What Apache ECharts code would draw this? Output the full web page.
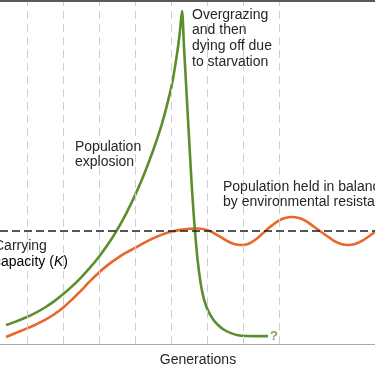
<!DOCTYPE html>
<html>
<head>
<meta charset="utf-8">
<script src="https://cdn.jsdelivr.net/npm/echarts@6/dist/echarts.min.js"></script>
<style>
  html, body { margin: 0; padding: 0; background: #fff; }
  #chart { width: 375px; height: 366px; }
</style>
</head>
<body>
<div id="chart"></div>
<script>
// Generations (x) and population (y, carrying capacity K = 100)
const greenX = [0.417, 0.667, 1.0, 1.25, 1.5, 1.75, 2.0, 2.25, 2.5, 2.75, 3.0, 3.25, 3.5, 3.75, 4.0, 4.25, 4.5, 4.75, 5.0, 5.1, 5.2, 5.25, 5.306,
                5.361, 5.417, 5.472, 5.528, 5.583, 5.639, 5.694, 5.75, 5.833, 5.917, 6.028, 6.167, 6.306, 6.472, 6.667, 6.861, 7.056, 7.361, 7.694];
const greenY = [16.8, 19.6, 23.9, 27.8, 32.3, 37.7, 44.0, 51.0, 58.8, 67.5, 77.2, 88.2, 100.8, 115.2, 131.5, 150, 171, 195, 226, 243, 264, 277, 294.7,
                263, 231, 199, 167, 137, 111, 89.5, 71.5, 52, 39.5, 29.5, 22, 16.8, 12.6, 9.6, 7.8, 7.1, 7.0, 7.0];
const orangeX = [0.417, 0.667, 1.0, 1.25, 1.5, 1.75, 2.0, 2.25, 2.5, 2.75, 3.0, 3.25, 3.5, 3.75, 4.0, 4.25, 4.5, 4.75, 5.0, 5.25, 5.5, 5.75,
                 6.0, 6.194, 6.361, 6.556, 6.75, 6.944, 7.139, 7.333, 7.528, 7.75, 7.972, 8.167, 8.361, 8.556, 8.75, 8.944, 9.139, 9.333,
                 9.528, 9.722, 9.917, 10.111, 10.306, 10.472, 10.667];
const orangeY = [6.2, 9.5, 13.8, 17.3, 21.3, 26.1, 32.1, 39.3, 47.3, 55.6, 63.3, 70.0, 75.8, 80.8, 85.0, 89.5, 93.5, 96.8, 99.3, 101.0, 102.0, 102.2,
                 100.9, 98.0, 95.0, 91.3, 88.5, 87.6, 88.5, 92, 97.3, 103.5, 108.8, 111.5, 112.4, 111.5, 108.8, 104.4, 100, 95.6,
                 91.2, 88.5, 87.6, 88.5, 91.2, 94.7, 99.1];
const carryingCapacity = 100;
const generationTicks = [1, 2, 3, 4, 5, 6, 7, 8];

const GREEN = '#5b8f2b';
const ORANGE = '#e8672c';
const TEXT = '#262626';
const FONT = '"Liberation Sans", Arial, Helvetica, sans-serif';

const greenData = greenX.map((x, i) => [x, greenY[i]]);
const orangeData = orangeX.map((x, i) => [x, orangeY[i]]);
const greenEnd = greenData[greenData.length - 1];

const chart = echarts.init(document.getElementById('chart'), null, { renderer: 'canvas' });

chart.setOption({
  animation: false,
  backgroundColor: '#ffffff',
  grid: { left: 0, right: 0, top: 0, bottom: 22, containLabel: false },
  xAxis: {
    type: 'value', min: 0.25, max: 10.667,
    axisLine: { show: true, lineStyle: { color: '#a8a8a8', width: 1 } },
    axisTick: { show: false }, axisLabel: { show: false }, splitLine: { show: false }
  },
  yAxis: {
    type: 'value', min: 0, max: 304.4,
    axisLine: { show: false }, axisTick: { show: false }, axisLabel: { show: false }, splitLine: { show: false }
  },
  series: [
    {
      type: 'line', name: 'grid', data: [], silent: true,
      markLine: {
        silent: true, symbol: 'none', label: { show: false },
        lineStyle: { color: '#cfcfcf', type: [8, 5], width: 1 },
        data: generationTicks.map(g => ({ xAxis: g }))
      },
      z: 1
    },
    {
      type: 'line', name: 'K', data: [], silent: true,
      markLine: {
        silent: true, symbol: 'none', label: { show: false },
        lineStyle: { color: '#1e1e1e', type: [8, 4], width: 1.6 },
        data: [{ yAxis: carryingCapacity }]
      },
      z: 2
    },
    {
      type: 'line', name: 'balanced', data: orangeData,
      smooth: 0.4, showSymbol: false, symbol: 'none',
      lineStyle: { color: ORANGE, width: 2.6 }, z: 3
    },
    {
      type: 'line', name: 'explosion', data: greenData,
      smooth: 0.3, showSymbol: false, symbol: 'none',
      lineStyle: { color: GREEN, width: 2.6, join: 'miter' }, z: 4
    },
    {
      type: 'scatter', name: 'unknown', data: [greenEnd], symbolSize: 2,
      itemStyle: { color: 'transparent' }, silent: true,
      label: {
        show: true, formatter: '?', position: 'right', distance: 1,
        color: GREEN, fontWeight: 'bold', fontSize: 13, fontFamily: FONT
      },
      z: 5
    }
  ],
  graphic: [
    { type: 'rect', shape: { x: 0, y: 0, width: 375, height: 2 }, style: { fill: '#5a5a5a' }, z: 10 },
    { type: 'text', x: 192, y: 7, style: { text: 'Overgrazing\nand then\ndying off due\nto starvation', font: '14px ' + FONT, fill: TEXT, lineHeight: 15.7, verticalAlign: 'top' }, z: 10 },
    { type: 'text', x: 75, y: 139, style: { text: 'Population\nexplosion', font: '14px ' + FONT, fill: TEXT, lineHeight: 15.7, verticalAlign: 'top' }, z: 10 },
    { type: 'text', x: 223, y: 179, style: { text: 'Population held in balance\nby environmental resistance', font: '14px ' + FONT, fill: TEXT, lineHeight: 15.7, verticalAlign: 'top' }, z: 10 },
    { type: 'text', x: -6, y: 238, style: { text: 'Carrying', font: '14px ' + FONT, fill: TEXT, lineHeight: 15.7, verticalAlign: 'top' }, z: 10 },
    { type: 'text', x: -6, y: 254, style: {
        text: '{n|capacity (}{i|K}{n|)}', verticalAlign: 'top',
        rich: {
          n: { fontSize: 14, fontFamily: FONT, color: TEXT, lineHeight: 15.7 },
          i: { fontSize: 14, fontFamily: FONT, color: TEXT, fontStyle: 'italic', lineHeight: 15.7 }
        }
      }, z: 10 },
    { type: 'text', x: 198, y: 360, style: { text: 'Generations', font: '14px ' + FONT, fill: TEXT, align: 'center', verticalAlign: 'middle' }, z: 10 }
  ]
});
</script>
</body>
</html>
